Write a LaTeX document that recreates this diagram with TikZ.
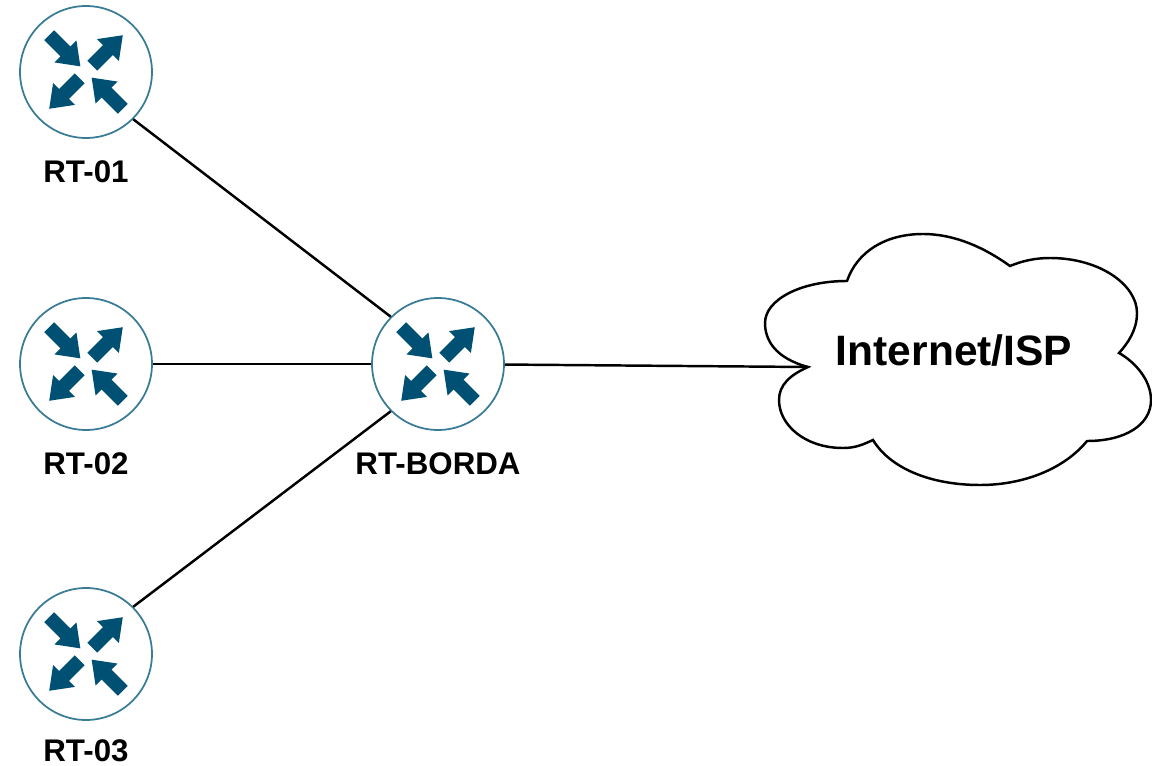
\documentclass[tikz,border=0pt]{standalone}
\usepackage{fontspec}
\setmainfont{Liberation Sans}
\usetikzlibrary{positioning}

\definecolor{routerblue}{HTML}{005073}
\definecolor{routerline}{HTML}{3A7C96}

\tikzset{
  router/.style={circle, draw=routerline, line width=1, fill=white, minimum size=2.64cm, inner sep=0},
  routerlabel/.style={font=\fontsize{17.8}{20}\selectfont\bfseries, inner sep=0},
  link/.style={line width=1.4, black},
  routerarrows/.pic={
    \foreach \a in {45, 225}
      \fill[routerblue, rotate=\a] (9,-7) -- (31,-7) -- (31,-15.5) -- (52,0) -- (31,15.5) -- (31,7) -- (9,7) -- cycle;
    \foreach \a in {135, -45}
      \fill[routerblue, rotate=\a] (52,-7) -- (29,-7) -- (29,-15.5) -- (8,0) -- (29,15.5) -- (29,7) -- (52,7) -- cycle;
  }
}

\begin{document}
\begin{tikzpicture}[x=0.02cm, y=-0.02cm]
  \useasboundingbox (0,0) rectangle (1152,766);

  % routers
  \node (rt01) at (86,72) [router] {};
  \node (rt02) at (86,364) [router] {};
  \node (rt03) at (86,654) [router] {};
  \node (rtborda) at (438,364) [router] {};

  \pic at (rt01) {routerarrows};
  \pic at (rt02) {routerarrows};
  \pic at (rt03) {routerarrows};
  \pic at (rtborda) {routerarrows};

  %%%%%%%%%%%%%%%%%%
  \node (label01) [routerlabel, below=0.42cm of rt01] {RT-01};
  \node (label02) [routerlabel, below=0.42cm of rt02] {RT-02};
  \node (label03) [routerlabel, below=0.36cm of rt03] {RT-03};
  \node (labelborda) [routerlabel, below=0.42cm of rtborda] {RT-BORDA};

  %%%%%%%%%%%%%%%%%%
  % cloud
  \draw[line width=1.4, fill=white] (808,367)
    .. controls (775,358) and (765,340) .. (765,323)
    .. controls (765,300) and (800,281) .. (847,281)
    .. controls (857,252) and (885,234) .. (923,234)
    .. controls (955,234) and (985,248) .. (1010,266)
    .. controls (1022,261) and (1035,258) .. (1050,258)
    .. controls (1100,258) and (1137,285) .. (1137,313)
    .. controls (1137,330) and (1128,343) .. (1119,353)
    .. controls (1135,362) and (1151,380) .. (1151,400)
    .. controls (1151,425) and (1125,441) .. (1087,441)
    .. controls (1065,468) and (1025,485) .. (980,485)
    .. controls (930,485) and (890,468) .. (873,440)
    .. controls (862,445) and (855,448) .. (843,448)
    .. controls (805,448) and (779,425) .. (779,400)
    .. controls (779,385) and (790,375) .. (808,367) -- cycle;
  \coordinate (cloudtip) at (808,367);
  \node (isp) at (954,351) [font=\fontsize{24.2}{28}\selectfont\bfseries, inner sep=0] {Internet/ISP};

  %%%%%%%%%%%%%%%%%%
  \draw [link] (rt01.-45) -- (rtborda.135);
  \draw [link] (rt02) -- (rtborda);
  \draw [link] (rt03.45) -- (rtborda.-135);
  \draw [link] (rtborda) -- (cloudtip);

\end{tikzpicture}
\end{document}
